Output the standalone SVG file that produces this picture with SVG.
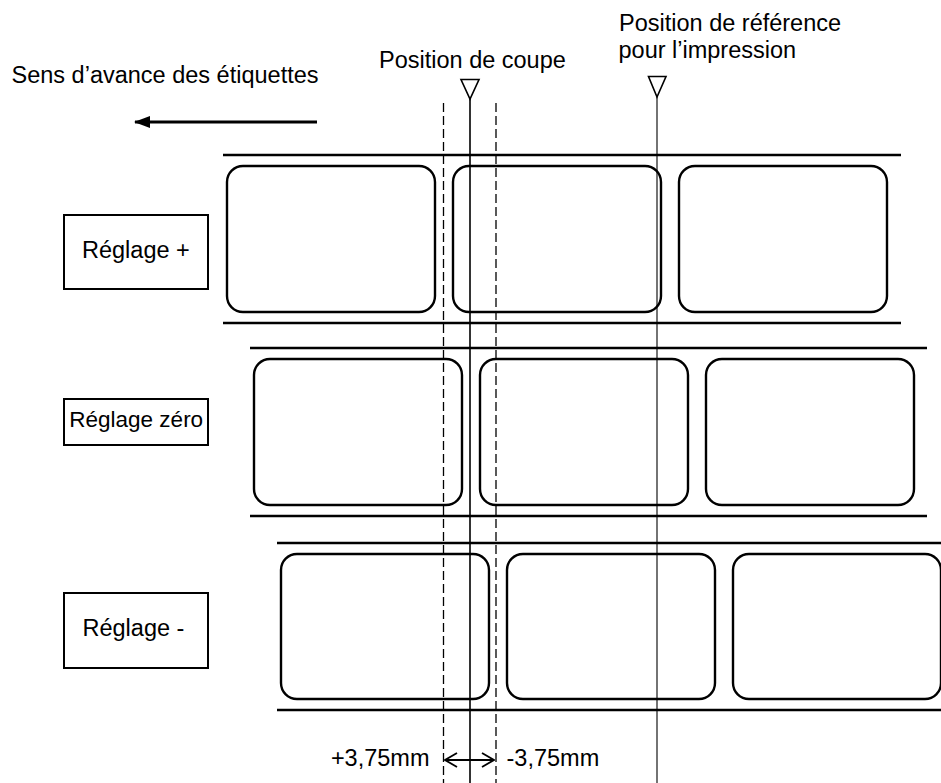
<svg xmlns="http://www.w3.org/2000/svg" width="941" height="783" viewBox="0 0 941 783">
<style>
text{font-family:"Liberation Sans",Arial,sans-serif;font-size:23.5px;fill:#000}
.rail{stroke:#000;stroke-width:2.4;fill:none}
.lbl{fill:none;stroke:#000;stroke-width:2.4}
.box{fill:#fff;stroke:#000;stroke-width:2}
.dash{stroke:#000;stroke-width:1.3;stroke-dasharray:9 4;fill:none}
.cut{stroke:#000;stroke-width:1.6;fill:none}
.ref{stroke:#000;stroke-width:1.1;fill:none}
.tri{fill:#fff;stroke:#000;stroke-width:1.6;stroke-linejoin:miter}
</style>
<defs>
<marker id="fill" viewBox="0 0 16 12" refX="15" refY="6" markerWidth="16" markerHeight="12" markerUnits="userSpaceOnUse" orient="auto">
<path d="M0,0 L16,6 L0,12 Z" fill="#000"/>
</marker>
<marker id="open" viewBox="0 0 14 16" refX="13" refY="8" markerWidth="14" markerHeight="16" markerUnits="userSpaceOnUse" orient="auto-start-reverse">
<path d="M1,1 L13,8 L1,15" fill="none" stroke="#000" stroke-width="1.8"/>
</marker>
</defs>
<rect width="941" height="783" fill="#fff"/>

<g id="titles">
<text x="11.5" y="83">Sens d’avance des étiquettes</text>
<text x="379" y="68">Position de coupe</text>
<text x="619" y="31">Position de référence</text>
<text x="618.5" y="58">pour l’impression</text>
</g>

<g id="row-plus">
<line class="rail" x1="223" y1="155" x2="901" y2="155"/>
<line class="rail" x1="223" y1="323" x2="901" y2="323"/>
<rect class="lbl" x="227" y="166" width="208" height="146" rx="16"/>
<rect class="lbl" x="453" y="166" width="208" height="146" rx="16"/>
<rect class="lbl" x="679" y="166" width="208" height="146" rx="16"/>
</g>
<g id="row-zero">
<line class="rail" x1="250" y1="348" x2="927" y2="348"/>
<line class="rail" x1="250" y1="516" x2="927" y2="516"/>
<rect class="lbl" x="254" y="359" width="208" height="146" rx="16"/>
<rect class="lbl" x="480" y="359" width="208" height="146" rx="16"/>
<rect class="lbl" x="706" y="359" width="208" height="146" rx="16"/>
</g>
<g id="row-minus">
<line class="rail" x1="277" y1="543" x2="941" y2="543"/>
<line class="rail" x1="277" y1="710" x2="941" y2="710"/>
<rect class="lbl" x="281" y="554" width="208" height="145" rx="16"/>
<rect class="lbl" x="507" y="554" width="208" height="145" rx="16"/>
<rect class="lbl" x="733" y="554" width="208" height="145" rx="16"/>
</g>

<g id="box-plus">
<rect class="box" x="64" y="215" width="144" height="74"/>
<text x="82" y="258">Réglage +</text>
</g>
<g id="box-zero">
<rect class="box" x="64" y="399" width="144" height="46"/>
<text x="69.3" y="427" style="font-size:22.5px">Réglage zéro</text>
</g>
<g id="box-minus">
<rect class="box" x="64" y="593" width="144" height="75"/>
<text x="82.5" y="636">Réglage -</text>
</g>

<g id="connectors">
<line x1="317" y1="122" x2="135" y2="122" stroke="#000" stroke-width="3" marker-end="url(#fill)"/>
<line class="dash" x1="443.5" y1="103" x2="443.5" y2="783"/>
<line class="dash" x1="496" y1="103" x2="496" y2="783"/>
<line class="cut" x1="470" y1="99" x2="470" y2="783"/>
<line class="ref" x1="657" y1="97" x2="657" y2="783"/>
<path class="tri" d="M461,79.5 L479,79.5 L470,99 Z"/>
<path class="tri" d="M648.5,76.5 L666,76.5 L657,97 Z"/>
<line x1="445" y1="760" x2="494" y2="760" stroke="#000" stroke-width="1.8" marker-start="url(#open)" marker-end="url(#open)"/>
</g>

<g id="dims">
<text x="429.5" y="766" text-anchor="end">+3,75mm</text>
<text x="506.5" y="766">-3,75mm</text>
</g>
</svg>
